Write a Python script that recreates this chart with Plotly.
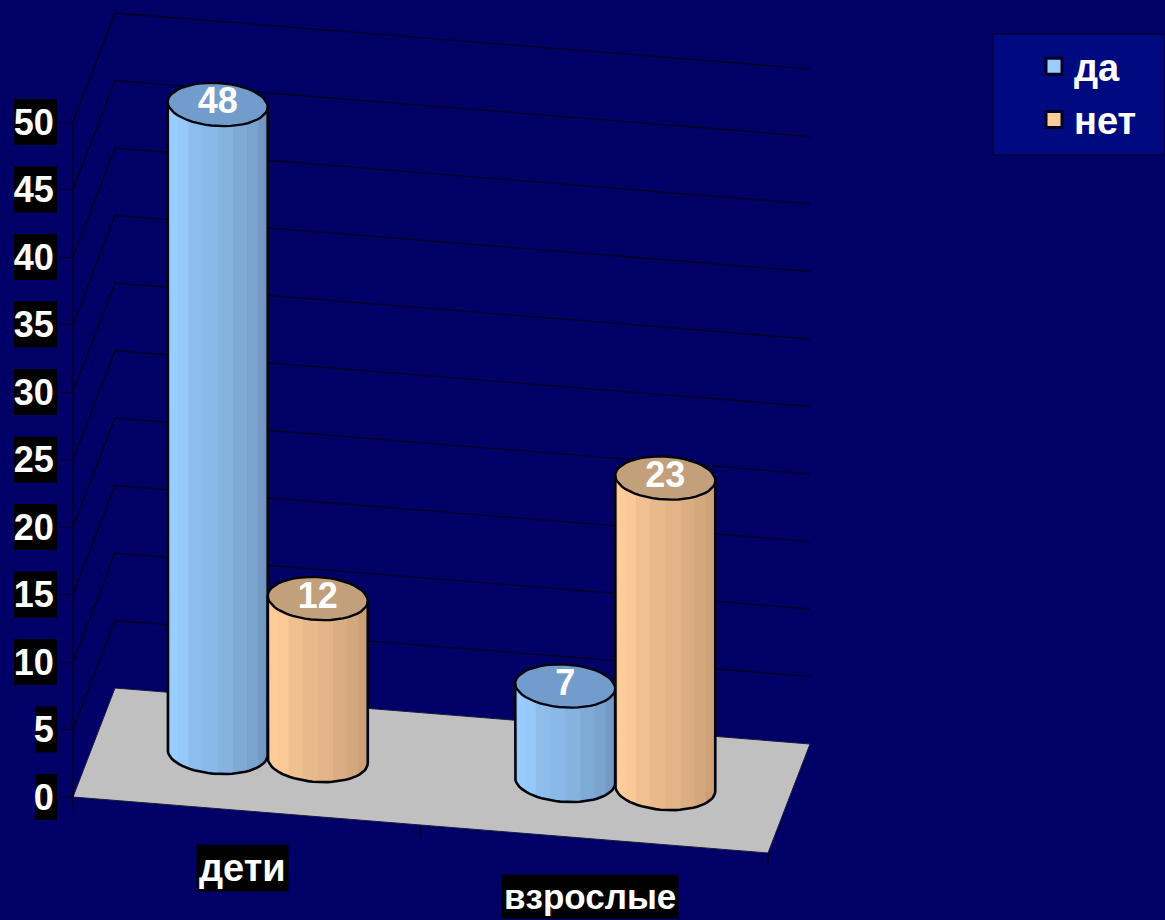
import math
import plotly.graph_objects as go

categories = ["дети", "взрослые"]
series_names = ["да", "нет"]
yes_values = [48, 7]
no_values = [12, 23]
value_ticks = [0, 5, 10, 15, 20, 25, 30, 35, 40, 45, 50]

W, H = 1165, 920
BG = "#000066"
PX = 13.5       # pixels per value unit
ORIGIN_X, ORIGIN_Y = 73, 797
U_X, U_Y = 695, 56      # front edge of floor
D_X, D_Y = 42, -109     # depth of floor
DEPTH = 0.5
RX, RY = 50, 21.5
TILT = 0.05
CATEGORY_FONT_SIZES = (38, 35)

blue = ["#8dbeef", "#99ccff", "#96c8fa", "#8ebdec", "#8ab8e8", "#86b2e0", "#80aad6", "#7aa3cd", "#7399c4", "#6c90b9"]
orange = ["#f2c291", "#ffcc99", "#fbc997", "#f0c090", "#e8ba8b", "#e2b486", "#dbae82", "#d4a87d", "#cca178", "#c39a72"]
blue_top, orange_top = "#729ccb", "#c2a07c"


def proj(u, d, v=0.0):
    """Oblique projection of chart space onto the x (pixel) / y (value) axes."""
    return ORIGIN_X + U_X * u + D_X * d, v - (U_Y * u + D_Y * d) / PX


def pixel_y(p):
    return p / PX


fig = go.Figure()

# floor
fx, fy = zip(*[proj(0, 0), proj(0, 1), proj(1, 1), proj(1, 0), proj(0, 0)])
fig.add_trace(go.Scatter(x=fx, y=fy, mode="lines", fill="toself", fillcolor="#c0c0c0",
                         line=dict(color="#1a1a40", width=1), showlegend=False, hoverinfo="skip"))

# walls' gridlines
gx, gy = [], []
for t in value_ticks[1:]:
    for p in (proj(0, 0, t), proj(0, 1, t), proj(1, 1, t)):
        gx.append(p[0]); gy.append(p[1])
    gx.append(None); gy.append(None)
fig.add_trace(go.Scatter(x=gx, y=gy, mode="lines", line=dict(color="#000022", width=1.4),
                         showlegend=False, hoverinfo="skip"))

# axis lines and category ticks
ax, ay = [], []
base = proj(0, 0)
for p in (proj(0, 0, max(value_ticks)), (base[0], base[1] - pixel_y(13))):
    ax.append(p[0]); ay.append(p[1])
ax.append(None); ay.append(None)
for u in (0.5, 1.0):
    p = proj(u, 0)
    ax += [p[0], p[0], None]; ay += [p[1], p[1] - pixel_y(13), None]
fig.add_trace(go.Scatter(x=ax, y=ay, mode="lines", line=dict(color="#000022", width=1.4),
                         showlegend=False, hoverinfo="skip"))


def ring(cx, cy, a0, a1, n=24):
    """Points of a disc outline; angles with positive sine lie on the near side."""
    xs, ys = [], []
    for k in range(n + 1):
        t = a0 + (a1 - a0) * k / n
        xs.append(cx + RX * math.cos(t))
        ys.append(cy - pixel_y(RY * math.sin(t) + TILT * RX * math.cos(t)))
    return xs, ys


def cylinder(i, s, value, shades, top):
    u = (i + 0.5) / 2 + (s - 0.5) * 0.144
    cx, cy0 = proj(u, DEPTH)
    cy1 = cy0 + value
    n = len(shades)
    # every strip reaches the right side; the next one paints over it, so no seams show
    for k, c in enumerate(shades):
        a0 = math.pi * (1 - k / n)
        bx, by = ring(cx, cy0, a0, 0, 24)
        tx, ty = ring(cx, cy1, 0, a0, 24)
        fig.add_trace(go.Scatter(x=bx + tx + [bx[0]], y=by + ty + [by[0]], mode="lines",
                                 fill="toself", fillcolor=c, line=dict(width=0),
                                 showlegend=False, hoverinfo="skip"))
    # top disc with outline
    tx, ty = ring(cx, cy1, 0, 2 * math.pi, 48)
    fig.add_trace(go.Scatter(x=tx, y=ty, mode="lines", fill="toself", fillcolor=top,
                             line=dict(color="#05050f", width=2.4), showlegend=False, hoverinfo="skip"))
    # silhouette
    bx, by = ring(cx, cy0, math.pi, 0, 32)
    left_top = ring(cx, cy1, math.pi, math.pi, 1)
    right_top = ring(cx, cy1, 0, 0, 1)
    ox = [left_top[0][0]] + bx + [right_top[0][0]]
    oy = [left_top[1][0]] + by + [right_top[1][0]]
    fig.add_trace(go.Scatter(x=ox, y=oy, mode="lines", line=dict(color="#05050f", width=2.6),
                             showlegend=False, hoverinfo="skip"))
    # value label
    fig.add_trace(go.Scatter(x=[cx], y=[cy1], mode="text", text=[str(value)],
                             textposition="middle center",
                             textfont=dict(family="Liberation Sans", size=36, color="#ffffff", weight="bold"),
                             showlegend=False, hoverinfo="skip"))


for i in range(len(categories)):
    cylinder(i, 0, yes_values[i], blue, blue_top)
    cylinder(i, 1, no_values[i], orange, orange_top)

# legend entries
for name, c in zip(series_names, (blue[1], orange[1])):
    fig.add_trace(go.Scatter(x=[None], y=[None], mode="markers", name=name, legendgroup=name,
                             marker=dict(symbol="square", size=16, color=c,
                                         line=dict(color="#000022", width=3))))

shapes = []
# black plates behind the value tick labels
for t in value_ticks:
    left = 14 if t >= 10 else 35
    shapes.append(dict(type="rect", layer="below", xref="x", yref="y", x0=left, x1=57,
                       y0=t - pixel_y(23), y1=t + pixel_y(23),
                       fillcolor="#000000", line=dict(width=0)))
# legend box
shapes.append(dict(type="rect", layer="below", xref="paper", yref="paper",
                   x0=993 / W, x1=1, y0=1 - 155 / H, y1=1 - 34 / H,
                   fillcolor="#000a80", line=dict(color="#00004a", width=2)))

annotations = []
for i, name in enumerate(categories):
    p = proj((i + 0.5) / 2, 0)
    annotations.append(dict(x=p[0], y=p[1], xref="x", yref="y", text=f"<b>{name}</b>", showarrow=False,
                            yshift=-57, xshift=-4, bgcolor="#000000", borderpad=2,
                            font=dict(family="Liberation Sans", size=CATEGORY_FONT_SIZES[i], color="#ffffff")))

fig.update_layout(
    width=W, height=H, margin=dict(l=0, r=0, t=0, b=0),
    paper_bgcolor=BG, plot_bgcolor=BG,
    shapes=shapes, annotations=annotations,
    font=dict(family="Liberation Sans", color="#ffffff"),
    showlegend=True,
    legend=dict(x=1034 / W, y=1 - 35 / H, xanchor="left", yanchor="top", bgcolor="rgba(0,0,0,0)",
                tracegroupgap=1, font=dict(family="Liberation Sans", size=38, color="#ffffff", weight="bold")),
    xaxis=dict(range=[0, W], visible=False, fixedrange=True),
    yaxis=dict(range=[(ORIGIN_Y - H) / PX, ORIGIN_Y / PX], tickmode="array", tickvals=value_ticks,
               ticktext=[str(t) for t in value_ticks], anchor="free", position=ORIGIN_X / W, side="left",
               showgrid=False, zeroline=False, showline=False, ticks="outside", ticklen=12, tickwidth=1.4,
               tickcolor="#000022",
               tickfont=dict(family="Liberation Sans", size=36, color="#ffffff", weight="bold"),
               fixedrange=True),
)

fig.write_html("out.html", config={"displayModeBar": False},
               post_script="document.body.style.margin='0';document.body.style.background='#000066';document.body.style.overflow='hidden';")
